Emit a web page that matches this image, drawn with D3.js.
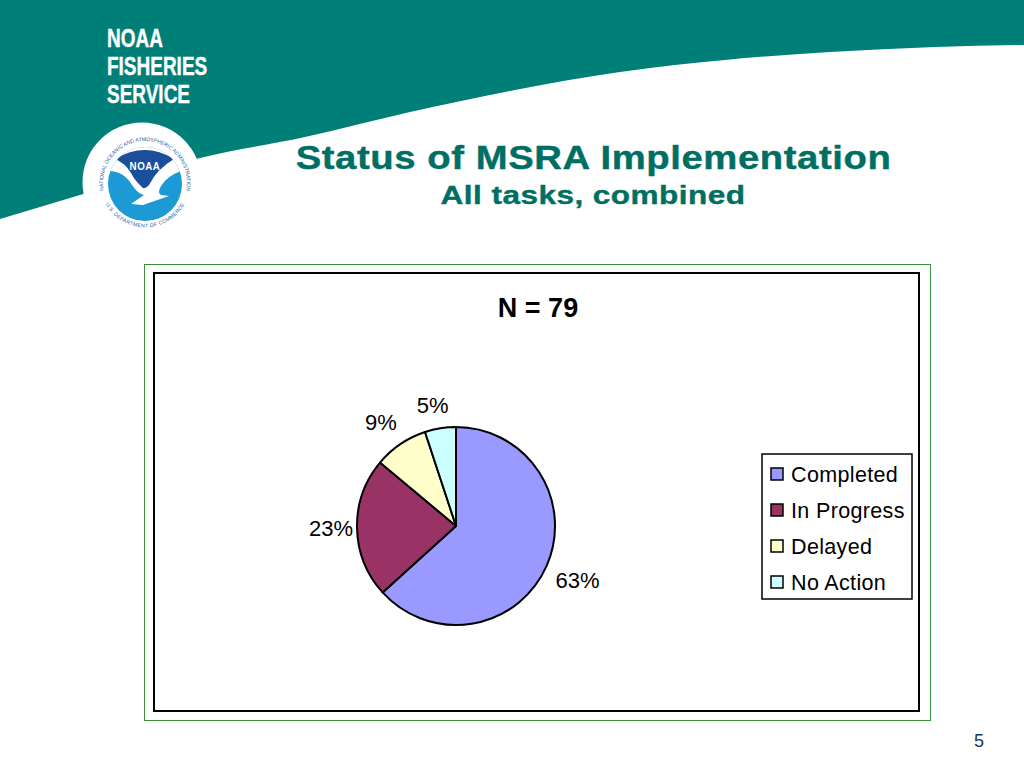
<!DOCTYPE html>
<html>
<head>
<meta charset="utf-8">
<script src="https://cdnjs.cloudflare.com/ajax/libs/d3/7.8.5/d3.min.js"></script>
<style>
html, body { margin: 0; padding: 0; background: white; }
svg { display: block; }
text { font-family: "Liberation Sans", Arial, sans-serif; }
</style>
</head>
<body>
<script>
var categories = ["Completed", "In Progress", "Delayed", "No Action"];
var counts = [50, 18, 7, 4];
var percentLabels = ["63%", "23%", "9%", "5%"];
var colors = ["#9999ff", "#993366", "#ffffcc", "#ccffff"];
var brandLines = ["NOAA", "FISHERIES", "SERVICE"];

var teal = "#007f79";
var titleColor = "#006f63";
var width = 1024, height = 768;

var svg = d3.select("body").append("svg")
    .attr("width", width)
    .attr("height", height);

// header swoosh
var swoosh = [[0, 219], [100, 189], [200, 158], [305, 137], [410, 112], [515, 90],
              [620, 72], [725, 60], [830, 52], [935, 47], [1024, 45]];
svg.append("path")
    .attr("d", d3.line().curve(d3.curveMonotoneX)(swoosh) + "L1024,0L0,0Z")
    .attr("fill", teal);

svg.selectAll(".brand")
    .data(brandLines)
    .enter().append("text")
    .attr("class", "brand")
    .attr("transform", function(d, i) { return "translate(107," + (47 + i * 28) + ") scale(0.76,1)"; })
    .attr("fill", "white")
    .attr("stroke", "white")
    .attr("stroke-width", 0.4)
    .style("font-weight", "bold")
    .style("font-size", "25px")
    .text(function(d) { return d; });

// logo
svg.append("circle")
    .attr("cx", 142).attr("cy", 182).attr("r", 59.5).attr("fill", "white");
var logo = svg.append("g").attr("transform", "translate(145,183)");
logo.append("clipPath").attr("id", "discClip")
    .append("circle").attr("cy", 1).attr("r", 37);
var disc = logo.append("g").attr("clip-path", "url(#discClip)");
disc.append("rect").attr("x", -40).attr("y", -40).attr("width", 80).attr("height", 80)
    .attr("fill", "#1d9ad6");
// white wings, also hides the top of the disc
disc.append("path")
    .attr("d", "M-45,-12 L-38,-12 Q-22,-13 -13,2 Q-7,11 -1,12 L-14,21 L-2,22 L24,13 L16,12 Q12,10 16,3 Q22,-7 36,-12 L36,-20 L45,-45 L-45,-45Z")
    .attr("fill", "white");
disc.append("path")
    .attr("d", "M-30,-24 Q0,-42 29,-24 Q12,-14 4,2 Q1,6 -2,5 Q-10,-2 -14,-10 Q-20,-20 -30,-24Z")
    .attr("fill", "#1b4f9c");
logo.append("text")
    .attr("transform", "translate(0,-13) scale(0.85,1)")
    .attr("text-anchor", "middle")
    .attr("fill", "white")
    .style("font-weight", "bold")
    .style("font-size", "11.5px")
    .style("letter-spacing", "0.6px")
    .text("NOAA");
logo.append("path").attr("id", "ringTop").attr("fill", "none")
    .attr("d", "M-39,15.6 A42,42 0 1 1 39,15.6");
logo.append("text").attr("fill", "#2b5ca8").style("font-size", "5.2px")
    .append("textPath").attr("href", "#ringTop").attr("startOffset", "50%")
    .attr("text-anchor", "middle")
    .text("NATIONAL OCEANIC AND ATMOSPHERIC ADMINISTRATION");
logo.append("path").attr("id", "ringBottom").attr("fill", "none")
    .attr("d", "M-40,20 A45,45 0 0 0 40,20");
logo.append("text").attr("fill", "#2b5ca8").style("font-size", "5.2px")
    .style("letter-spacing", "0.3px")
    .append("textPath").attr("href", "#ringBottom").attr("startOffset", "50%")
    .attr("text-anchor", "middle")
    .text("U.S. DEPARTMENT OF COMMERCE");

// titles
svg.append("text")
    .attr("transform", "translate(593.5,169) scale(1.16,1)")
    .attr("text-anchor", "middle")
    .attr("fill", titleColor)
    .attr("stroke", titleColor)
    .attr("stroke-width", 0.4)
    .style("font-weight", "bold")
    .style("font-size", "33px")
    .style("letter-spacing", "0.5px")
    .text("Status of MSRA Implementation");
svg.append("text")
    .attr("transform", "translate(593,204) scale(1.19,1)")
    .attr("text-anchor", "middle")
    .attr("fill", titleColor)
    .attr("stroke", titleColor)
    .attr("stroke-width", 0.4)
    .style("font-weight", "bold")
    .style("font-size", "26.5px")
    .style("letter-spacing", "0.4px")
    .text("All tasks, combined");

// chart frames
svg.append("rect")
    .attr("x", 144.5).attr("y", 264.5).attr("width", 786).attr("height", 456)
    .attr("fill", "white").attr("stroke", "#3c8f3c").attr("stroke-width", 1);
svg.append("rect")
    .attr("x", 154).attr("y", 273).attr("width", 765).attr("height", 438)
    .attr("fill", "white").attr("stroke", "black").attr("stroke-width", 2);

svg.append("text")
    .attr("x", 538).attr("y", 317)
    .attr("text-anchor", "middle")
    .attr("fill", "black")
    .style("font-weight", "bold")
    .style("font-size", "27px")
    .text("N = 79");

// pie
var radius = 99;
var pie = d3.pie().sort(null)(counts);
var arc = d3.arc().innerRadius(0).outerRadius(radius);
var pieG = svg.append("g").attr("transform", "translate(456,526)");

pieG.selectAll("path")
    .data(pie)
    .enter().append("path")
    .attr("d", arc)
    .attr("fill", function(d, i) { return colors[i]; })
    .attr("stroke", "black")
    .attr("stroke-width", 2)
    .attr("stroke-linejoin", "round");

// label radii differ per slice, same as the chart's hand placed labels
var labelRadius = [133, 125, 125, 122];
var labelNudge = [0, 0, -5, -4];
pieG.selectAll(".pct")
    .data(pie)
    .enter().append("text")
    .attr("class", "pct")
    .attr("transform", function(d, i) {
        var c = d3.arc().innerRadius(labelRadius[i]).outerRadius(labelRadius[i]).centroid(d);
        return "translate(" + (c[0] + labelNudge[i]) + "," + c[1] + ")";
    })
    .attr("text-anchor", "middle")
    .attr("dy", "0.35em")
    .attr("fill", "black")
    .style("font-size", "22px")
    .text(function(d, i) { return percentLabels[i]; });

// legend
var legendY = d3.scalePoint().domain(categories).range([474, 582]);
svg.append("rect")
    .attr("x", 762).attr("y", 454).attr("width", 150).attr("height", 145)
    .attr("fill", "white").attr("stroke", "black").attr("stroke-width", 1.5);
var legend = svg.selectAll(".legend")
    .data(categories)
    .enter().append("g")
    .attr("class", "legend")
    .attr("transform", function(d) { return "translate(0," + legendY(d) + ")"; });
legend.append("rect")
    .attr("x", 771).attr("y", -6).attr("width", 12).attr("height", 12)
    .attr("fill", function(d, i) { return colors[i]; })
    .attr("stroke", "black")
    .attr("stroke-width", 1.5);
legend.append("text")
    .attr("x", 791).attr("dy", "0.36em")
    .attr("fill", "black")
    .style("font-size", "21.5px")
    .style("letter-spacing", "0.35px")
    .text(function(d) { return d; });

svg.append("text")
    .attr("x", 984).attr("y", 747)
    .attr("text-anchor", "end")
    .attr("fill", "#17375e")
    .style("font-size", "18px")
    .text("5");
</script>
</body>
</html>
